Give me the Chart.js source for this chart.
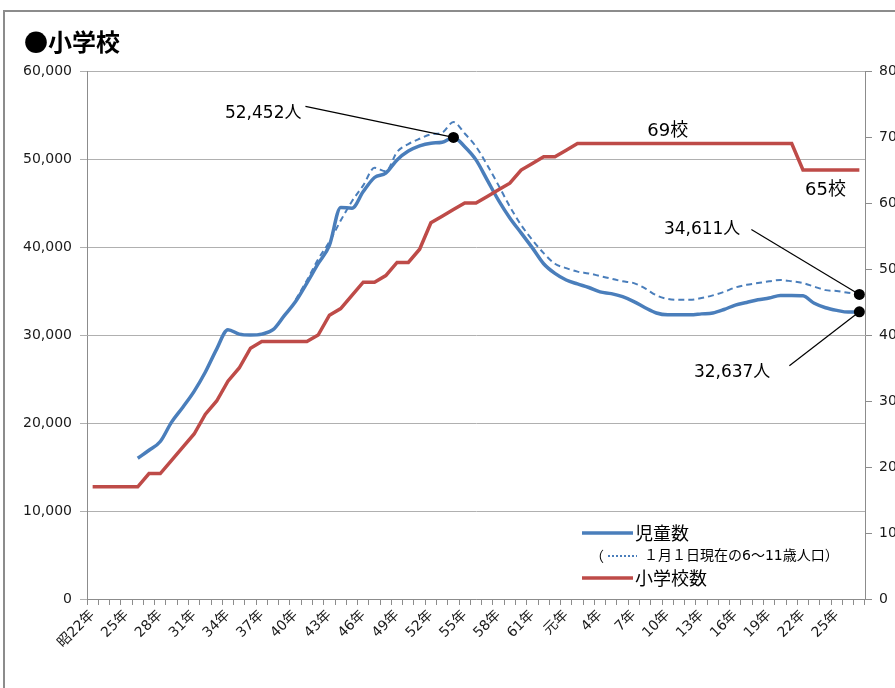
<!DOCTYPE html>
<html><head><meta charset="utf-8">
<script src="https://cdn.jsdelivr.net/npm/chart.js@4/dist/chart.umd.min.js"></script>
<style>
html,body{margin:0;padding:0;background:#fff;}
#wrap{position:relative;width:895px;height:688px;overflow:hidden;}
#frame{position:absolute;left:3px;top:10px;width:1000px;height:1000px;border-top:2px solid #8c8c8c;border-left:2px solid #8c8c8c;}
#title{position:absolute;left:24px;top:25px;font:bold 24px "Noto Sans CJK JP";color:#000;line-height:32px;}
canvas{position:absolute;left:0;top:0;}
</style></head><body>
<div id="wrap"><div id="frame"></div><canvas id="c" width="895" height="688"></canvas><div id="title">●小学校</div></div>
<script>
const categories = ["昭22年","23年","24年","25年","26年","27年","28年","29年","30年","31年","32年","33年","34年","35年","36年","37年","38年","39年","40年","41年","42年","43年","44年","45年","46年","47年","48年","49年","50年","51年","52年","53年","54年","55年","56年","57年","58年","59年","60年","61年","62年","63年","元年","2年","3年","4年","5年","6年","7年","8年","9年","10年","11年","12年","13年","14年","15年","16年","17年","18年","19年","20年","21年","22年","23年","24年","25年","26年","27年"];

const pupils = [null,null,null,null,16000,16900,17900,20100,21800,23600,25800,28400,30600,30100,30000,30100,30600,32200,33800,35900,38100,40200,44500,44400,46300,47900,48400,49900,50900,51500,51800,51900,52452,51400,49900,47600,45300,43300,41600,39900,38100,37000,36250,35800,35400,34900,34700,34350,33800,33100,32500,32300,32300,32300,32400,32500,32900,33400,33700,34000,34200,34500,34500,34450,33600,33100,32800,32600,32637];

const population = [null,null,null,null,null,null,null,null,null,null,null,null,null,null,null,null,null,null,34000,36200,38600,40600,43000,45200,47000,49000,48600,50800,51700,52300,52800,53000,54200,52900,51400,49300,47000,44600,42500,40800,39300,38100,37600,37200,37000,36700,36400,36100,35900,35300,34500,34100,34000,34000,34200,34500,34900,35400,35700,35900,36100,36250,36100,35900,35500,35100,35000,34800,34611];

const schools = [17,17,17,17,17,19,19,21,23,25,28,30,33,35,38,39,39,39,39,39,40,43,44,46,48,48,49,51,51,53,57,58,59,60,60,61,62,63,65,66,67,67,68,69,69,69,69,69,69,69,69,69,69,69,69,69,69,69,69,69,69,69,69,65,65,65,65,65,65];

const leftTicks = [0,10000,20000,30000,40000,50000,60000];
const rightTicks = [0,10,20,30,40,50,60,70,80];

const BLUE = '#4a7ebb', RED = '#be4b48';
const FONT = '"DejaVu Sans", "Noto Sans CJK JP", sans-serif';

const notes = {
  id: 'notes',
  afterDatasetsDraw(chart) {
    const ctx = chart.ctx, xs = chart.scales.x, ys = chart.scales.y, ys1 = chart.scales.y1;
    const last = categories.length - 1;
    const peakVal = Math.max(...pupils.filter(v => v != null));
    const pk = pupils.indexOf(peakVal);
    const dot = (px, py) => { ctx.beginPath(); ctx.arc(px, py, 5.5, 0, Math.PI * 2); ctx.fillStyle = '#000'; ctx.fill(); };
    const line = (a, b, c, d) => { ctx.beginPath(); ctx.moveTo(a, b); ctx.lineTo(c, d); ctx.strokeStyle = '#000'; ctx.lineWidth = 1.2; ctx.stroke(); };
    ctx.save();
    ctx.font = '17px ' + FONT;
    ctx.textBaseline = 'middle';
    // peak
    let px = xs.getPixelForValue(pk), py = ys.getPixelForValue(peakVal);
    line(px - 148, py - 31, px, py);
    dot(px, py);
    ctx.fillStyle = '#000'; ctx.textAlign = 'right';
    ctx.fillText(peakVal.toLocaleString('en-US') + '人', px - 152, py - 24);
    // population end
    px = xs.getPixelForValue(last); py = ys.getPixelForValue(population[last]);
    line(px - 108, py - 65, px, py);
    dot(px, py);
    ctx.fillStyle = '#000'; ctx.textAlign = 'right';
    ctx.fillText(population[last].toLocaleString('en-US') + '人', px - 119, py - 65);
    // pupils end
    px = xs.getPixelForValue(last); py = ys.getPixelForValue(pupils[last]);
    line(px - 70, py + 54, px, py);
    dot(px, py);
    ctx.fillStyle = '#000'; ctx.textAlign = 'right';
    ctx.fillText(pupils[last].toLocaleString('en-US') + '人', px - 89, py + 61);
    // school labels
    ctx.textAlign = 'center';
    ctx.font = '18px ' + FONT;
    ctx.fillText(schools[51] + '校', xs.getPixelForValue(51), ys1.getPixelForValue(schools[51]) - 12);
    ctx.fillText(schools[65] + '校', xs.getPixelForValue(65), ys1.getPixelForValue(schools[65]) + 20);
    ctx.restore();
  },
  afterDraw(chart) {
    const ctx = chart.ctx, a = chart.chartArea;
    const lx = a.left + 495, lx2 = a.left + 546;
    const ds = chart.data.datasets;
    ctx.save();
    ctx.textBaseline = 'middle';
    ctx.textAlign = 'left';
    ctx.lineCap = 'butt';
    // row 1
    ctx.beginPath(); ctx.moveTo(lx, 533); ctx.lineTo(lx2, 533);
    ctx.strokeStyle = BLUE; ctx.lineWidth = 3.5; ctx.stroke();
    ctx.fillStyle = '#000'; ctx.font = '18px "Noto Sans CJK JP"';
    ctx.fillText(ds[0].label, lx2 + 2, 533);
    // row 2
    ctx.font = '14px "Noto Sans CJK JP"';
    ctx.fillText('（', lx + 8, 556);
    ctx.beginPath(); ctx.moveTo(lx + 26, 556); ctx.lineTo(lx + 55, 556);
    ctx.setLineDash([2, 2]); ctx.strokeStyle = BLUE; ctx.lineWidth = 2; ctx.stroke(); ctx.setLineDash([]);
    ctx.font = '14px ' + FONT;
    ctx.fillText(ds[1].label, lx + 62, 556);
    // row 3
    ctx.beginPath(); ctx.moveTo(lx, 578); ctx.lineTo(lx2, 578);
    ctx.strokeStyle = RED; ctx.lineWidth = 3.5; ctx.stroke();
    ctx.font = '18px "Noto Sans CJK JP"';
    ctx.fillText(ds[2].label, lx2 + 2, 578);
    ctx.restore();
  }
};

new Chart(document.getElementById('c'), {
  type: 'line',
  data: {
    labels: categories,
    datasets: [
      { label: '児童数', data: pupils, yAxisID: 'y', borderColor: BLUE, borderWidth: 3.5, pointRadius: 0, cubicInterpolationMode: 'monotone', order: 2 },
      { label: '１月１日現在の6～11歳人口）', data: population, yAxisID: 'y', borderColor: BLUE, borderWidth: 2, borderDash: [6, 4], pointRadius: 0, cubicInterpolationMode: 'monotone', order: 3 },
      { label: '小学校数', data: schools, yAxisID: 'y1', borderColor: RED, borderWidth: 3.5, pointRadius: 0, tension: 0, order: 1 }
    ]
  },
  options: {
    responsive: false,
    animation: false,
    layout: { padding: { top: 71, left: 0, right: 0, bottom: 0 } },
    plugins: { legend: { display: false }, tooltip: { enabled: false }, title: { display: false } },
    scales: {
      x: {
        type: 'category', offset: true,
        grid: { offset: true, drawOnChartArea: false, drawTicks: true, tickLength: 6, color: '#8c8c8c' },
        border: { color: '#8c8c8c' },
        ticks: {
          autoSkip: false, maxRotation: 45, minRotation: 45, padding: 2,
          color: '#1a1a1a', font: { family: FONT, size: 14 },
          callback: (v, i) => (i % 3 === 0 ? categories[i] : '')
        },
        afterFit: s => { s.height = 89; }
      },
      y: {
        position: 'left', min: 0, max: 60000,
        afterBuildTicks: s => { s.ticks = leftTicks.map(v => ({ value: v })); },
        grid: { color: '#b0b0b0', tickLength: 7 },
        border: { color: '#8c8c8c' },
        ticks: { color: '#1a1a1a', padding: 8, font: { family: FONT, size: 14 }, callback: v => Number(v).toLocaleString('en-US') },
        afterFit: s => { s.width = 87; }
      },
      y1: {
        position: 'right', min: 0, max: 80,
        afterBuildTicks: s => { s.ticks = rightTicks.map(v => ({ value: v })); },
        grid: { drawOnChartArea: false, tickLength: 7, color: '#8c8c8c' },
        border: { color: '#8c8c8c' },
        ticks: { color: '#1a1a1a', padding: 7, font: { family: FONT, size: 14 } },
        afterFit: s => { s.width = 30; }
      }
    }
  },
  plugins: [notes]
});
</script>
</body></html>
